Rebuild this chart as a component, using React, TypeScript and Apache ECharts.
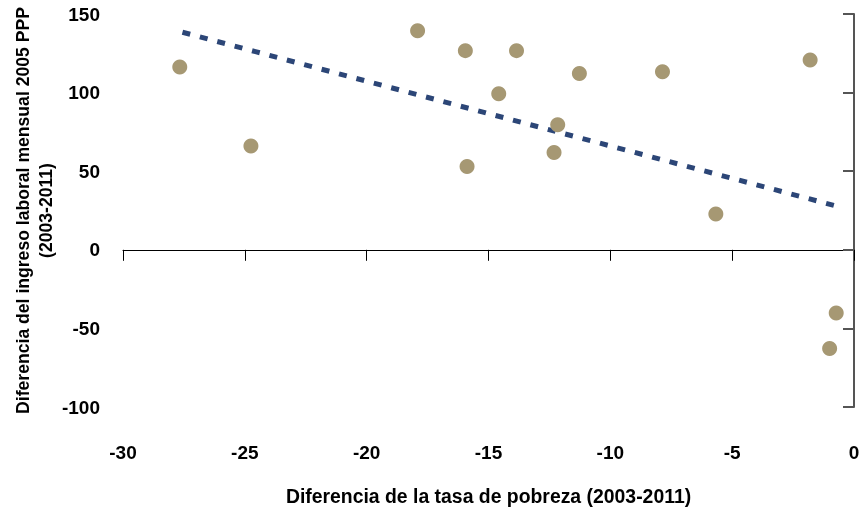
import React, { useEffect, useRef } from "react";
import * as echarts from "echarts";

const pobrezaDiff = [-27.67, -24.75, -17.91, -15.95, -13.85, -11.27, -14.58, -12.16, -12.31, -15.88, -7.86, -1.8, -5.67, -0.73, -1.0];
const ingresoDiff = [116.3, 66.1, 139.4, 126.7, 126.7, 112.1, 99.2, 79.5, 61.9, 53.0, 113.2, 120.8, 22.7, -40.2, -62.8];
const trendX = [-27.56, -0.57];
const trendY = [138.4, 27.2];
const xTicks = [-30, -25, -20, -15, -10, -5, 0];
const yTicks = [-100, -50, 0, 50, 100, 150];

const FONT = "'Liberation Sans', Arial, sans-serif";

export default function App() {
  const ref = useRef<HTMLDivElement>(null);
  useEffect(() => {
    if (!ref.current) return;
    const chart = echarts.init(ref.current, null, { renderer: "svg" });
    const labelStyle = { fontFamily: FONT, fontWeight: "bold" as const, fontSize: 19, color: "#000" };
    chart.setOption({
      animation: false,
      grid: { left: 123, right: 5, top: 14, bottom: 101, outerBoundsMode: "none", containLabel: false },
      xAxis: [
        {
          type: "value",
          min: xTicks[0],
          max: xTicks[xTicks.length - 1],
          interval: 5,
          position: "bottom",
          axisLine: { show: true, onZero: true, lineStyle: { color: "#000", width: 1 } },
          axisTick: { show: true, length: 11, lineStyle: { color: "#000", width: 1 } },
          axisLabel: { show: false },
          splitLine: { show: false },
        },
        {
          type: "value",
          min: xTicks[0],
          max: xTicks[xTicks.length - 1],
          interval: 5,
          position: "bottom",
          axisLine: { show: false, onZero: false },
          axisTick: { show: false },
          axisLabel: { show: true, margin: 36, ...labelStyle },
          splitLine: { show: false },
          name: "Diferencia de la tasa de pobreza (2003-2011)",
          nameLocation: "middle",
          nameGap: 79,
          nameMoveOverlap: false,
          nameTextStyle: { ...labelStyle, fontSize: 19.4 },
        },
      ],
      yAxis: [
        {
          type: "value",
          min: yTicks[0],
          max: yTicks[yTicks.length - 1],
          interval: 50,
          position: "left",
          axisLine: { show: false, onZero: false },
          axisTick: { show: false },
          axisLabel: { show: true, margin: 23, ...labelStyle },
          splitLine: { show: false },
          name: "Diferencia del ingreso laboral mensual 2005 PPP\n(2003-2011)",
          nameLocation: "middle",
          nameGap: 66,
          nameMoveOverlap: false,
          nameTextStyle: { ...labelStyle, fontSize: 17.6, lineHeight: 23 },
        },
        {
          type: "value",
          min: yTicks[0],
          max: yTicks[yTicks.length - 1],
          interval: 50,
          position: "right",
          axisLine: { show: true, onZero: false, lineStyle: { color: "#555", width: 2 } },
          axisTick: { show: true, inside: true, length: 11, lineStyle: { color: "#555", width: 2 } },
          axisLabel: { show: false },
          splitLine: { show: false },
        },
      ],
      series: [
        {
          type: "line",
          xAxisIndex: 0,
          yAxisIndex: 0,
          data: trendX.map((x, i) => [x, trendY[i]]),
          symbol: "none",
          lineStyle: { color: "#2c4677", width: 5, type: [8, 10], cap: "butt" },
          z: 1,
        },
        {
          type: "scatter",
          xAxisIndex: 0,
          yAxisIndex: 0,
          data: pobrezaDiff.map((x, i) => [x, ingresoDiff[i]]),
          symbol: "circle",
          symbolSize: 15,
          itemStyle: { color: "#a69873", opacity: 1 },
          z: 2,
        },
      ],
    });
    return () => chart.dispose();
  }, []);
  return <div ref={ref} style={{ position: "fixed", left: 0, top: 0, width: 859, height: 508 }} />;
}
